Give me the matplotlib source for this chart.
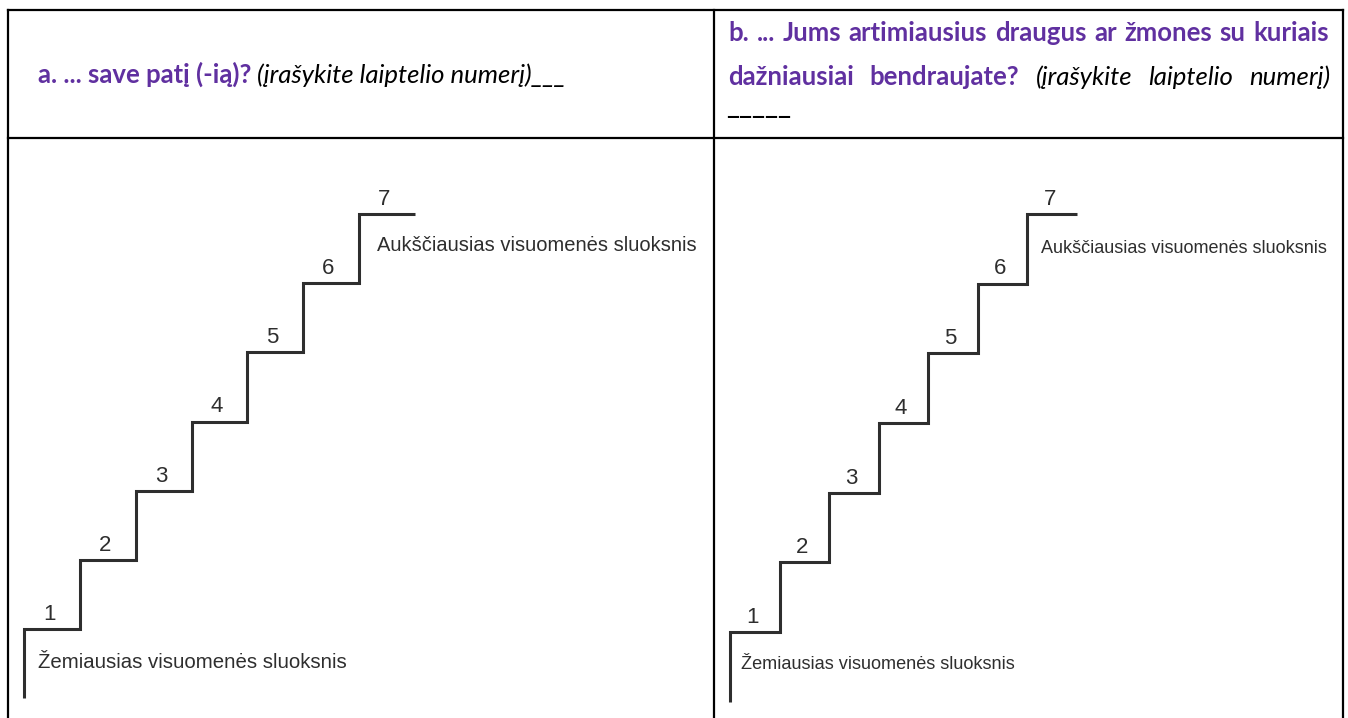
import matplotlib
matplotlib.use("Agg")
import matplotlib.pyplot as plt

# ---- data ----
steps = [1, 2, 3, 4, 5, 6, 7]
step_labels = ["1", "2", "3", "4", "5", "6", "7"]
top_label = "Aukščiausias visuomenės sluoksnis"
bottom_label = "Žemiausias visuomenės sluoksnis"
header_a_bold = "a. ... save patį (-ią)?"
header_a_ital = " (įrašykite laiptelio numerį)___"
header_b_line1 = ["b.", "...", "Jums", "artimiausius", "draugus", "ar", "žmones", "su", "kuriais"]
header_b_line2_bold = ["dažniausiai", "bendraujate?"]
header_b_line2_ital = ["(įrašykite", "laiptelio", "numerį)"]
header_b_line3 = "_____"

W, H = 1348, 718
PURPLE = "#6030a0"
STAIR = "#2e2e2e"
HFONT = ["Lato", "DejaVu Sans"]
SFONT = ["Liberation Sans", "DejaVu Sans"]

fig = plt.figure(figsize=(W / 100, H / 100), dpi=100)
ax0 = fig.add_axes([0, 0, 1, 1])
ax0.set_xlim(0, W)
ax0.set_ylim(H, 0)
ax0.axis("off")
renderer = fig.canvas.get_renderer()


def width(t):
    return t.get_window_extent(renderer).width


# ---- table borders ----
LX, MX, RX, TY, HY = 8, 714, 1343, 10, 138
bkw = dict(color="black", lw=1.6, solid_capstyle="projecting")
ax0.plot([LX, RX], [TY, TY], **bkw)
ax0.plot([LX, RX], [HY, HY], **bkw)
for x in (LX, MX, RX):
    ax0.plot([x, x], [TY, H + 5], **bkw)

# ---- header a ----
fs = 15
ta = ax0.text(38, 83, header_a_bold, fontsize=fs, fontweight="bold", color=PURPLE,
              family=HFONT, va="baseline", ha="left")
tb = ax0.text(0, 83, header_a_ital, fontsize=fs, style="italic", color="black",
              family=HFONT, va="baseline", ha="left")
total = width(ta) + width(tb)
fs = fs * (567 - 38) / total
ta.set_fontsize(fs)
tb.set_fontsize(fs)
tb.set_x(38 + width(ta))


def justify(words, x0, x1, y):
    # words: list of (text, bold, italic)
    arts = []
    for txt, bold, ital in words:
        t = ax0.text(0, y, txt, fontsize=fs, family=HFONT, va="baseline", ha="left",
                     fontweight="bold" if bold else "normal",
                     style="italic" if ital else "normal",
                     color=PURPLE if bold else "black")
        arts.append(t)
    ws = [width(t) for t in arts]
    gap = (x1 - x0 - sum(ws)) / (len(arts) - 1)
    x = x0
    for t, w in zip(arts, ws):
        t.set_x(x)
        x += w + gap


justify([(w, True, False) for w in header_b_line1], 728, 1329, 41)
justify([(w, True, False) for w in header_b_line2_bold] +
        [(w, False, True) for w in header_b_line2_ital], 728, 1330, 85)
tu = ax0.text(726, 114, header_b_line3, fontsize=fs, family=HFONT, va="baseline",
              ha="left", color="black")
tu.set_fontsize(fs * 66 / width(tu))


# ---- staircases ----
def px_axes(x0, x1, y_top, y_bot):
    return fig.add_axes([x0 / W, 1 - y_bot / H, (x1 - x0) / W, (y_bot - y_top) / H])


def stairs(ax, lab_fs, top_fs_w, bot_fs_w, top_pos, bot_pos):
    ax.set_xlim(0, len(steps))
    ax.set_ylim(0, len(steps))
    ax.axis("off")
    xs, ys = [0], [0]
    for k in steps:
        xs += [k - 1, k]
        ys += [k, k]
        if k < steps[-1]:
            xs.append(k)
            ys.append(k + 1)
    ax.plot(xs, ys, color=STAIR, lw=2.2, solid_joinstyle="miter",
            solid_capstyle="butt", clip_on=False)
    for k, lab in zip(steps, step_labels):
        ax.text(k - 0.55, k + 0.06, lab, fontsize=lab_fs, family=SFONT,
                color=STAIR, ha="center", va="bottom")
    for txt, pos, target in ((top_label, top_pos, top_fs_w), (bottom_label, bot_pos, bot_fs_w)):
        t = ax.text(pos[0], pos[1], txt, fontsize=14, family=SFONT, color=STAIR,
                    ha="left", va="center")
        t.set_fontsize(14 * target / width(t))


axL = px_axes(24, 415, 214, 698.2)
stairs(axL, 16, 323, 311, (6.32, 6.55), (0.25, 0.52))
axR = px_axes(730, 1077, 214, 701.7)
stairs(axR, 16, 288, 277, (6.27, 6.51), (0.22, 0.54))

fig.savefig("out.png", dpi=100)
